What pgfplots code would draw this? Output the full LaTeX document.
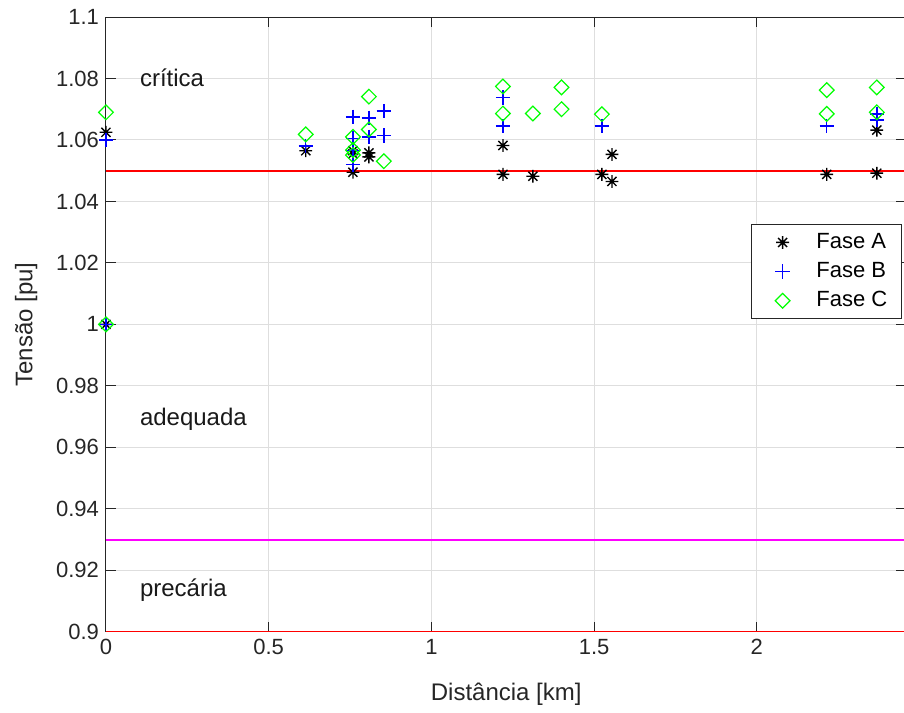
\documentclass[border=0pt]{standalone}
\usepackage{fontspec}
\setmainfont{Liberation Sans}
\usepackage{pgfplots}
\pgfplotsset{compat=1.18}

% eight-armed asterisk (a "+" over an "x")
\pgfdeclareplotmark{star8}{%
  \pgfpathmoveto{\pgfqpoint{-\pgfplotmarksize}{0pt}}%
  \pgfpathlineto{\pgfqpoint{\pgfplotmarksize}{0pt}}%
  \pgfpathmoveto{\pgfqpoint{0pt}{-\pgfplotmarksize}}%
  \pgfpathlineto{\pgfqpoint{0pt}{\pgfplotmarksize}}%
  \pgfpathmoveto{\pgfqpoint{-.707\pgfplotmarksize}{-.707\pgfplotmarksize}}%
  \pgfpathlineto{\pgfqpoint{.707\pgfplotmarksize}{.707\pgfplotmarksize}}%
  \pgfpathmoveto{\pgfqpoint{-.707\pgfplotmarksize}{.707\pgfplotmarksize}}%
  \pgfpathlineto{\pgfqpoint{.707\pgfplotmarksize}{-.707\pgfplotmarksize}}%
  \pgfusepathqstroke}

\definecolor{axgray}{gray}{0.15}
\definecolor{gridgray}{gray}{0.87}
\definecolor{faseB}{rgb}{0,0,1}
\definecolor{faseC}{rgb}{0,1,0}
\definecolor{limred}{rgb}{1,0,0}
\definecolor{limmag}{rgb}{1,0,1}

\begin{document}
\begin{tikzpicture}
\begin{axis}[
  scale only axis,
  width=400.35pt, height=307.5pt,
  xmin=0, xmax=2.46, ymin=0.9, ymax=1.1,
  xtick={0,0.5,1,1.5,2},
  ytick={0.9,0.92,0.94,0.96,0.98,1,1.02,1.04,1.06,1.08,1.1},
  grid=major,
  major grid style={gridgray, line width=0.5pt},
  tick align=inside,
  major tick length=5pt,
  axis line style={axgray, line width=0.5pt},
  tick style={axgray, line width=0.5pt},
  /pgf/number format/assume math mode=true,
  ticklabel style={font=\fontsize{11}{13}\selectfont, text=axgray},
  xlabel={Distância [km]},
  ylabel={Tensão [pu]},
  label style={font=\fontsize{12}{14}\selectfont, text=axgray},
  xlabel style={yshift=-7.5pt},
  ylabel style={yshift=2.5pt},
  legend cell align=left,
  legend style={at={(axis cs:2.4455,1.0327)}, anchor=north east,
    draw=axgray, line width=0.5pt, fill=white,
    font=\fontsize{11}{13}\selectfont, text=black,
    inner xsep=3pt, inner ysep=2.5pt, row sep=1.5pt},
  legend image code/.code={%
    \path (0cm,0cm) (0.94cm,0cm);
    \draw[#1] plot coordinates {(0.43cm,0cm)};},
]

% limit lines
\addplot[limred, line width=1pt, forget plot] coordinates {(0,1.05) (2.46,1.05)};
\addplot[limmag, line width=1pt, forget plot] coordinates {(0,0.93) (2.46,0.93)};
\addplot[limred, line width=1.2pt, forget plot] coordinates {(0,0.9) (2.46,0.9)};

% Fase A
\addplot[only marks, black, mark=star8, mark size=3.2pt, line width=0.7pt] coordinates {
  (0,1.0) (0,1.0625)
  (0.614,1.0565)
  (0.759,1.0565) (0.759,1.0555) (0.759,1.0495)
  (0.808,1.0558) (0.808,1.0545)
  (1.22,1.0582) (1.22,1.0488)
  (1.312,1.0482)
  (1.524,1.0488)
  (1.555,1.0553) (1.555,1.0465)
  (2.215,1.0488)
  (2.369,1.0632) (2.369,1.0492)
};
\addlegendentry{Fase A\hspace{2pt}\mbox{}}

% Fase B
\addplot[only marks, faseB, mark=+, mark size=3.6pt, line width=0.7pt] coordinates {
  (0,1.0) (0,1.0600)
  (0.614,1.0580)
  (0.759,1.0675) (0.759,1.0605) (0.759,1.0565) (0.759,1.0520)
  (0.808,1.0672) (0.808,1.0610)
  (0.854,1.0694) (0.854,1.0615)
  (1.22,1.0738) (1.22,1.0645)
  (1.524,1.0645)
  (2.215,1.0645)
  (2.369,1.0685) (2.369,1.0665)
};
\addlegendentry{Fase B\hspace{2pt}\mbox{}}

% Fase C
\addplot[only marks, faseC, mark=square, mark size=2.6pt, line width=0.6pt,
  mark options={rotate=45}] coordinates {
  (0,1.0) (0,1.0690)
  (0.614,1.0618)
  (0.759,1.0610) (0.759,1.0567) (0.759,1.0551)
  (0.808,1.0741) (0.808,1.0634)
  (0.854,1.0531)
  (1.22,1.0774) (1.22,1.0686)
  (1.312,1.0686)
  (1.40,1.0771) (1.40,1.0700)
  (1.524,1.0684)
  (2.215,1.0762) (2.215,1.0685)
  (2.369,1.0771) (2.369,1.0690)
};
\addlegendentry{Fase C\hspace{2pt}\mbox{}}

% zone names
\node[anchor=west, font=\fontsize{12}{14}\selectfont, text=black!90]
  at (axis cs:0.083,1.0802) {crítica};
\node[anchor=west, font=\fontsize{12}{14}\selectfont, text=black!90]
  at (axis cs:0.083,0.9690) {adequada};
\node[anchor=west, font=\fontsize{12}{14}\selectfont, text=black!90]
  at (axis cs:0.083,0.9137) {precária};

% page frame
\coordinate (bbSW) at (axis cs:-0.3257,0.87366);
\coordinate (bbNE) at (axis cs:2.4525,1.10553);
\end{axis}
\pgfresetboundingbox
\useasboundingbox (bbSW) rectangle (bbNE);
\end{tikzpicture}
\end{document}
